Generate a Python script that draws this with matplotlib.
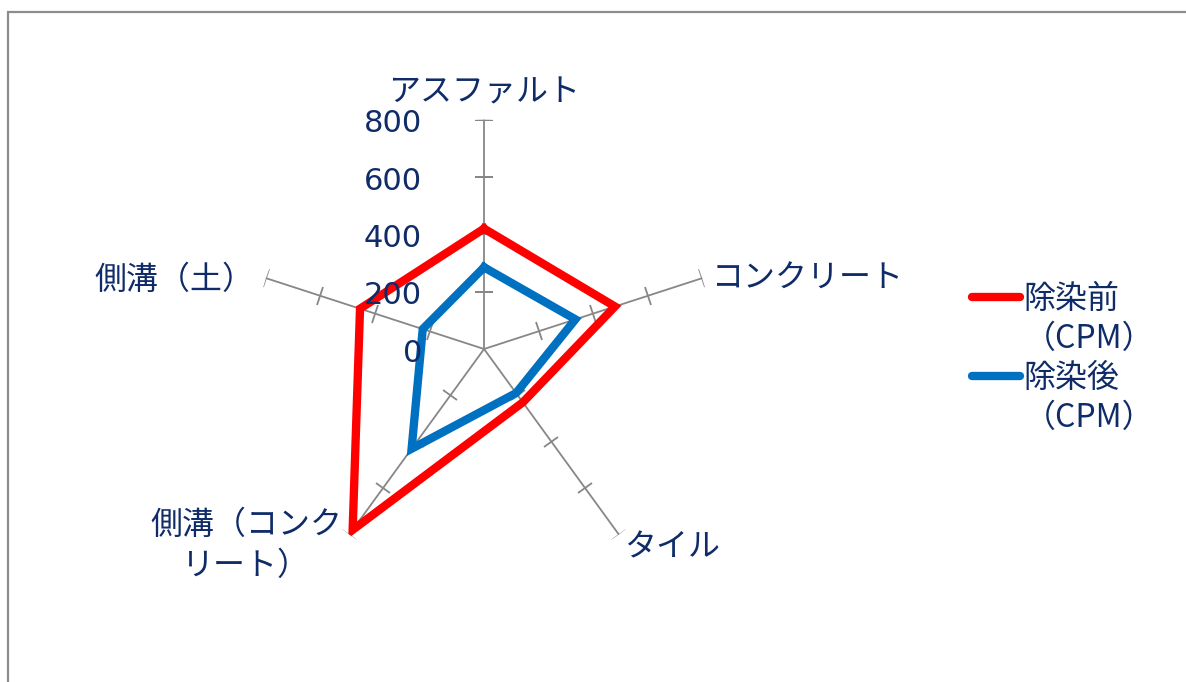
import numpy as np
import matplotlib
matplotlib.use('Agg')
import matplotlib.pyplot as plt
from matplotlib.markers import MarkerStyle
from matplotlib.transforms import Affine2D
from matplotlib.lines import Line2D
from matplotlib.patches import Rectangle

plt.rcParams['font.family'] = ['Noto Sans CJK JP', 'DejaVu Sans']

# ---- data ----
categories = ['アスファルト', 'コンクリート', 'タイル', '側溝（コンクリート）', '側溝（土）']
category_display = ['アスファルト', 'コンクリート', 'タイル', '側溝（コンク\nリート）', '側溝（土）']
before_values = [420, 480, 230, 780, 455]
after_values = [285, 335, 190, 430, 225]
series_names = ['除染前', '除染後']
series_unit = '（CPM）'
r_ticks = [0, 200, 400, 600, 800]
r_tick_labels = ['0', '200', '400', '600', '800']

TXT = '#0F2C68'
GRID = '#878787'
RED = '#FF0000'
BLUE = '#0070C0'
FS = 23
LW = 6.0

fig = plt.figure(figsize=(11.86, 6.82), dpi=100)
ax = fig.add_axes([0.2148, 0.152, 0.3867, 0.6725], projection='polar')
ax.set_theta_zero_location('N')
ax.set_theta_direction(-1)
ax.set_ylim(r_ticks[0], r_ticks[-1])
ax.grid(False)
ax.set_xticks([])
ax.set_yticks([])
ax.spines['polar'].set_visible(False)
ax.patch.set_visible(False)

n = len(categories)
theta = np.linspace(0, 2 * np.pi, n, endpoint=False)

# spokes with perpendicular tick marks
for t in theta:
    ax.plot([t, t], [r_ticks[0], r_ticks[-1]], color=GRID, lw=1.3, zorder=1)
    mk = MarkerStyle('_', transform=Affine2D().rotate_deg(-np.rad2deg(t)))
    ax.plot([t] * (len(r_ticks) - 1), r_ticks[1:], ls='none', marker=mk,
            ms=13, mew=1.3, color=GRID, zorder=1)

# series
th_closed = np.append(theta, theta[0])
l1, = ax.plot(th_closed, before_values + before_values[:1], color=RED, lw=LW,
              solid_joinstyle='miter', zorder=3)
l2, = ax.plot(th_closed, after_values + after_values[:1], color=BLUE, lw=LW,
              solid_joinstyle='miter', zorder=4)

# radial tick labels
for v, lab in zip(r_ticks, r_tick_labels):
    ax.annotate(lab, xy=(0, v), xytext=(-62, -4), textcoords='offset pixels',
                ha='right', va='center', fontsize=22, color=TXT, zorder=5,
                family=['DejaVu Sans'])

# category labels
offsets = [(0, 27, 'center'), (10, -1, 'left'), (5, -13, 'left'),
           (-103, -11, 'center'), (-12, -2, 'right')]
for t, lab, (dx, dy, ha) in zip(theta, category_display, offsets):
    ax.annotate(lab, xy=(t, r_ticks[-1]), xytext=(dx, dy), textcoords='offset pixels',
                ha=ha, va='center', fontsize=FS, color=TXT, multialignment='center',
                linespacing=1.35)

# legend
blank = Line2D([], [], color='none')
h1 = Line2D([], [], color=RED, lw=LW, solid_capstyle='round')
h2 = Line2D([], [], color=BLUE, lw=LW, solid_capstyle='round')
fig.legend([h1, blank, h2, blank],
           [series_names[0], series_unit, series_names[1], series_unit],
           loc='upper left', bbox_to_anchor=(972 / 1186, 1 - 283 / 682),
           frameon=False, fontsize=FS, labelcolor=TXT, handlelength=1.5,
           handletextpad=0.12, labelspacing=0.24, borderpad=0, borderaxespad=0)

# outer frame (partially visible)
fig.add_artist(Rectangle((8 / 1186, -0.2), 1.2, 1.2 - 12 / 682, transform=fig.transFigure,
                         fill=False, edgecolor='#8C8C8C', lw=1.6))

fig.savefig('out.png', dpi=100)
